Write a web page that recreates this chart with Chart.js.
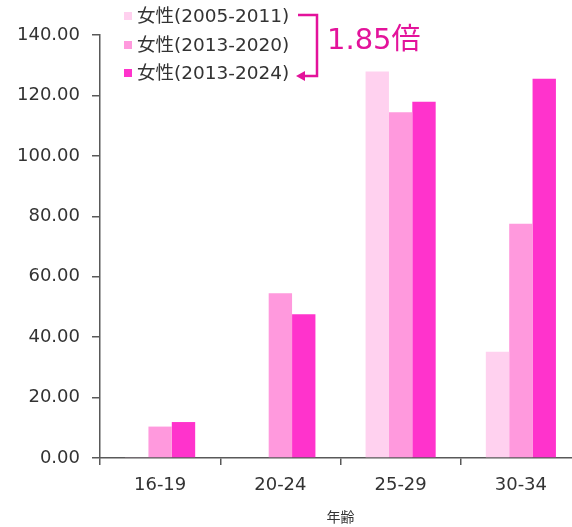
<!DOCTYPE html>
<html>
<head>
<meta charset="utf-8">
<script src="https://cdn.jsdelivr.net/npm/chart.js@4/dist/chart.umd.min.js"></script>
<style>
  html, body { margin: 0; padding: 0; background: #fff; overflow: hidden; }
  #wrap { position: relative; width: 590px; height: 527px; }
</style>
</head>
<body>
<div id="wrap"><canvas id="c" width="590" height="527"></canvas></div>
<script>
const categories = ['16-19', '20-24', '25-29', '30-34'];
const seriesLabels = ['女性(2005-2011)', '女性(2013-2020)', '女性(2013-2024)'];
const series2005_2011 = [0.3, 0, 127.9, 35.2];
const series2013_2020 = [10.4, 54.5, 114.4, 77.5];
const series2013_2024 = [11.9, 47.6, 117.9, 125.5];
const seriesColors = ['#FFD1EF', '#FF99DD', '#FF33CC'];
const xTitle = '年齢';
const annotationText = '1.85倍';

const FONT = '"DejaVu Sans", Verdana, "Noto Sans CJK JP", sans-serif';
const AXIS = '#595959';
const TEXT = '#333333';
const ACCENT = '#E3139B';

const overlay = {
  id: 'overlay',
  afterDraw(chart) {
    const ctx = chart.ctx;
    ctx.save();
    // legend
    const rows = [16, 45, 73];
    chart.data.datasets.forEach((ds, i) => {
      ctx.fillStyle = ds.backgroundColor;
      ctx.fillRect(124, rows[i] - 4, 8, 8);
      ctx.fillStyle = TEXT;
      ctx.font = '18.5px ' + FONT;
      ctx.textBaseline = 'middle';
      ctx.textAlign = 'left';
      ctx.fillText(ds.label, 137, rows[i] + 1);
    });
    // bracket
    ctx.strokeStyle = ACCENT;
    ctx.lineWidth = 2.5;
    ctx.beginPath();
    ctx.moveTo(298, 15);
    ctx.lineTo(317, 15);
    ctx.lineTo(317, 76);
    ctx.lineTo(303, 76);
    ctx.stroke();
    ctx.fillStyle = ACCENT;
    ctx.beginPath();
    ctx.moveTo(296, 76);
    ctx.lineTo(305, 71);
    ctx.lineTo(305, 81);
    ctx.closePath();
    ctx.fill();
    // annotation text
    ctx.font = '29px ' + FONT;
    ctx.textBaseline = 'middle';
    ctx.textAlign = 'left';
    ctx.fillText(annotationText, 327, 41);
    ctx.restore();
  }
};

new Chart(document.getElementById('c'), {
  type: 'bar',
  data: {
    labels: categories,
    datasets: [
      { label: seriesLabels[0], data: series2005_2011, backgroundColor: seriesColors[0] },
      { label: seriesLabels[1], data: series2013_2020, backgroundColor: seriesColors[1] },
      { label: seriesLabels[2], data: series2013_2024, backgroundColor: seriesColors[2] }
    ]
  },
  options: {
    responsive: false,
    animation: false,
    devicePixelRatio: 1,
    layout: { padding: { left: 0, right: 9, top: 35, bottom: 0 } },
    datasets: { bar: { categoryPercentage: 0.583, barPercentage: 1.0, borderWidth: 0 } },
    plugins: { legend: { display: false }, tooltip: { enabled: false } },
    scales: {
      x: {
        grid: { display: true, drawOnChartArea: false, drawTicks: true, tickLength: 7, color: AXIS, lineWidth: 1.5, offset: true },
        border: { display: true, color: AXIS, width: 1.5 },
        ticks: { color: TEXT, font: { family: FONT, size: 18 }, padding: 10, maxRotation: 0 },
        title: { display: true, text: xTitle, color: TEXT, font: { family: FONT, size: 14 }, padding: { top: 0, bottom: 0 } },
        afterFit(scale) { scale.height = 69; }
      },
      y: {
        min: 0, max: 140,
        grid: { display: true, drawOnChartArea: false, drawTicks: true, tickLength: 8, color: AXIS, lineWidth: 1.5 },
        border: { display: true, color: AXIS, width: 1.5 },
        ticks: { stepSize: 20, color: TEXT, font: { family: FONT, size: 18 }, padding: 12,
                 callback: (v) => Number(v).toFixed(2) },
        afterFit(scale) { scale.width = 100; }
      }
    }
  },
  plugins: [overlay]
});
</script>
</body>
</html>
